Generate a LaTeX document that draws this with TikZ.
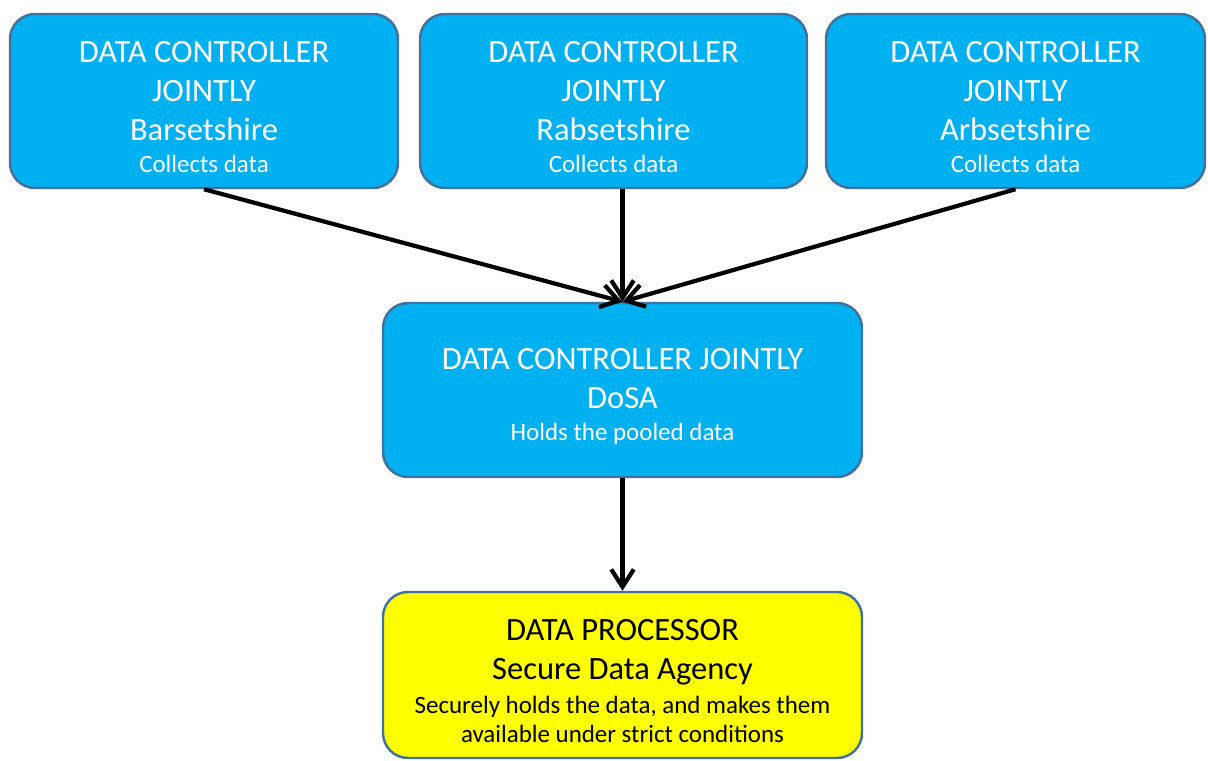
\documentclass[tikz,border=0pt]{standalone}
\usepackage{fontspec}
\setmainfont{Carlito}
\usetikzlibrary{arrows.meta}

\definecolor{ctrlblue}{HTML}{00B0F0}
\definecolor{ctrledge}{HTML}{41719C}
\definecolor{procyellow}{HTML}{FFFF00}

\newcommand{\bigline}{\fontsize{18.5}{22.2}\selectfont}
\newcommand{\smallline}{\fontsize{14.2}{16}\selectfont}
% taller first line, pushes the text block a little down in its box
\newcommand{\headstrut}{\rule{0pt}{19pt}}

\begin{document}
\begin{tikzpicture}[
  party/.style={draw=ctrledge, line width=1.4pt, rounded corners=0.5cm,
    align=center, font=\bigline, inner sep=0pt},
  controller/.style={party, fill=ctrlblue, text=white},
  processor/.style={party, fill=procyellow, text=black},
  flow/.style={-{Straight Barb[length=3.5mm,width=4.5mm]}, line width=2.4pt}
]
\useasboundingbox (0,0) rectangle (24.16,15.2);

% the three councils that collect the data
\node [controller, minimum width=7.76cm, minimum height=3.48cm] (barset) at (4.08,13.18)
  {\headstrut DATA CONTROLLER\\JOINTLY\\Barsetshire\\[-4pt]{\smallline Collects data}};
\node [controller, minimum width=7.74cm, minimum height=3.48cm] (rabset) at (12.27,13.18)
  {\headstrut DATA CONTROLLER\\JOINTLY\\Rabsetshire\\[-4pt]{\smallline Collects data}};
\node [controller, minimum width=7.58cm, minimum height=3.48cm] (arbset) at (20.31,13.18)
  {\headstrut DATA CONTROLLER\\JOINTLY\\Arbsetshire\\[-4pt]{\smallline Collects data}};

% pooled data
\node [controller, minimum width=9.58cm, minimum height=3.48cm] (dosa) at (12.45,7.4)
  {\headstrut DATA CONTROLLER JOINTLY\\DoSA\\[-4pt]{\smallline Holds the pooled data}};

% processor
\node [processor, minimum width=9.58cm, minimum height=3.32cm] (sda) at (12.45,1.70)
  {\headstrut DATA PROCESSOR\\Secure Data Agency\\[-3pt]{\smallline Securely holds the data, and makes them}\\[-5.2pt]{\smallline available under strict conditions}};

\draw [flow] (barset.south) -- (dosa.north);
\draw [flow] (rabset.south -| dosa.north) -- (dosa.north);
\draw [flow] (arbset.south) -- (dosa.north);
\draw [flow] (dosa.south) -- (sda.north);

\end{tikzpicture}
\end{document}
